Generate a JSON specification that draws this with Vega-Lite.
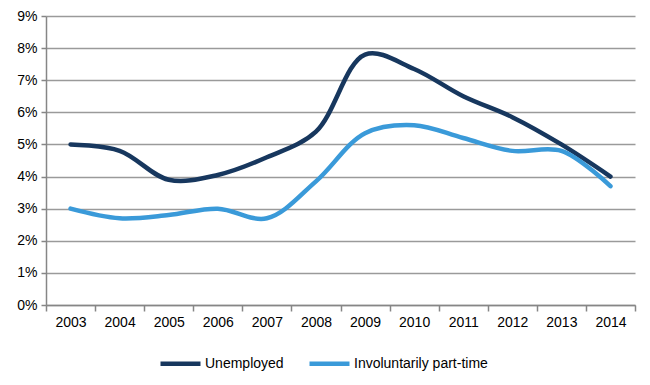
{
  "$schema": "https://vega.github.io/schema/vega-lite/v6.json",
  "width": 589,
  "height": 289,
  "autosize": "none",
  "padding": {"left": 46, "top": 16, "right": 15, "bottom": 80},
  "background": "white",
  "config": {
    "font": "Liberation Sans",
    "view": {"stroke": null},
    "axis": {"labelFont": "Liberation Sans", "labelFontSize": 14, "labelColor": "#000000"}
  },
  "data": {
    "values": [
      {"year": "2003", "series": "Unemployed", "value": 5.0},
      {"year": "2004", "series": "Unemployed", "value": 4.8},
      {"year": "2005", "series": "Unemployed", "value": 3.9},
      {"year": "2006", "series": "Unemployed", "value": 4.05},
      {"year": "2007", "series": "Unemployed", "value": 4.6},
      {"year": "2008", "series": "Unemployed", "value": 5.4},
      {"year": "2009", "series": "Unemployed", "value": 7.8},
      {"year": "2010", "series": "Unemployed", "value": 7.35},
      {"year": "2011", "series": "Unemployed", "value": 6.5},
      {"year": "2012", "series": "Unemployed", "value": 5.85},
      {"year": "2013", "series": "Unemployed", "value": 5.0},
      {"year": "2014", "series": "Unemployed", "value": 4.0},
      {"year": "2003", "series": "Involuntarily part-time", "value": 3.0},
      {"year": "2004", "series": "Involuntarily part-time", "value": 2.7},
      {"year": "2005", "series": "Involuntarily part-time", "value": 2.8},
      {"year": "2006", "series": "Involuntarily part-time", "value": 3.0},
      {"year": "2007", "series": "Involuntarily part-time", "value": 2.7},
      {"year": "2008", "series": "Involuntarily part-time", "value": 3.85},
      {"year": "2009", "series": "Involuntarily part-time", "value": 5.35},
      {"year": "2010", "series": "Involuntarily part-time", "value": 5.6},
      {"year": "2011", "series": "Involuntarily part-time", "value": 5.2},
      {"year": "2012", "series": "Involuntarily part-time", "value": 4.8},
      {"year": "2013", "series": "Involuntarily part-time", "value": 4.8},
      {"year": "2014", "series": "Involuntarily part-time", "value": 3.7}
    ]
  },
  "mark": {"type": "line", "strokeWidth": 4.5, "interpolate": "catmull-rom", "strokeCap": "round"},
  "encoding": {
    "x": {
      "field": "year",
      "type": "ordinal",
      "title": null,
      "scale": {"type": "band", "paddingInner": 0, "paddingOuter": 0},
      "bandPosition": 0.5,
      "axis": {
        "labelAngle": 0,
        "tickBand": "extent",
        "domainColor": "#868686",
        "domainWidth": 1.5,
        "tickColor": "#868686",
        "tickWidth": 1.5,
        "tickSize": 6,
        "labelPadding": 4,
        "grid": false
      }
    },
    "y": {
      "field": "value",
      "type": "quantitative",
      "title": null,
      "scale": {"domain": [0, 9], "nice": false},
      "axis": {
        "values": [0, 1, 2, 3, 4, 5, 6, 7, 8, 9],
        "labelExpr": "datum.value + '%'",
        "grid": true,
        "gridColor": "#9a9a9a",
        "gridWidth": 1.5,
        "domainColor": "#868686",
        "domainWidth": 1.5,
        "tickColor": "#868686",
        "tickWidth": 1.5,
        "tickSize": 5,
        "labelPadding": 4
      }
    },
    "color": {
      "field": "series",
      "type": "nominal",
      "sort": ["Unemployed", "Involuntarily part-time"],
      "scale": {"domain": ["Unemployed", "Involuntarily part-time"], "range": ["#17375e", "#3a9ad9"]},
      "legend": {
        "title": null,
        "orient": "none",
        "legendX": 112,
        "legendY": 325,
        "direction": "horizontal",
        "symbolType": "stroke",
        "symbolStrokeWidth": 4.5,
        "symbolSize": 1600,
        "labelFont": "Liberation Sans",
        "labelFontSize": 14,
        "labelColor": "#000000",
        "columnPadding": 16,
        "labelOffset": 2
      }
    }
  }
}
